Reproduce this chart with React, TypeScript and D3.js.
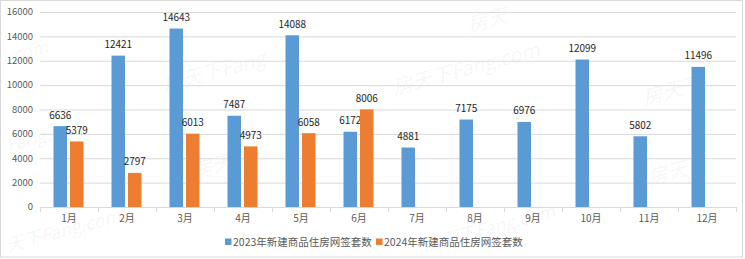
import React from "react";
import * as d3 from "d3";

const months = ["1月", "2月", "3月", "4月", "5月", "6月", "7月", "8月", "9月", "10月", "11月", "12月"];
const series2023 = [6636, 12421, 14643, 7487, 14088, 6172, 4881, 7175, 6976, 12099, 5802, 11496];
const series2024 = [5379, 2797, 6013, 4973, 6058, 8006];
const yTicks = [0, 2000, 4000, 6000, 8000, 10000, 12000, 14000, 16000];
const seriesNames = ["2023年新建商品住房网签套数", "2024年新建商品住房网签套数"];

const W = 745;
const H = 259;
const FONT = "'Noto Sans CJK SC', 'Noto Sans', sans-serif";
const BLUE = "#5B9BD5";
const ORANGE = "#ED7D31";

const watermarks = [
  { x: 395, y: 95, t: "房天下Fang.com", s: 20 },
  { x: 165, y: 92, t: "房天下Fang", s: 20 },
  { x: 645, y: 105, t: "房天下", s: 20 },
  { x: 650, y: 185, t: "房天", s: 20 },
  { x: 8, y: 252, t: "天下Fang.com", s: 18 },
  { x: 8, y: 152, t: "Fang.com", s: 18 },
  { x: 14, y: 62, t: "com", s: 18 },
  { x: 195, y: 178, t: "房天下", s: 20 },
  { x: 425, y: 252, t: "房天下Fang.com", s: 18 },
  { x: 470, y: 32, t: "房天", s: 20 },
];

export default function App() {
  const left = 40, right = 736, top = 12, bottom = 207;
  const x = d3.scaleBand<string>().domain(months).range([left, right]).paddingInner(0).paddingOuter(0);
  const y = d3.scaleLinear().domain([0, 16000]).range([bottom, top]);
  const bw = x.bandwidth();
  const barW = 13.5;
  const gap = 3;
  const off1 = (bw - (2 * barW + gap)) / 2 - 0.5;
  const off2 = off1 + barW + gap;

  return (
    <div style={{ position: "absolute", left: 0, top: 0 }}>
      <svg width={W} height={H} style={{ display: "block", fontFamily: FONT }}>
        <rect x={0} y={0} width={W} height={H} fill="#fff" />
        {watermarks.map((w, i) => (
          <text key={"w" + i} x={w.x} y={w.y} fontSize={w.s} fill="#000" fillOpacity={0.05}
            transform={`rotate(-15 ${w.x} ${w.y})`} fontStyle="italic">{w.t}</text>
        ))}
        {yTicks.map((t) => (
          <g key={t}>
            {t > 0 && <line x1={left} x2={right} y1={y(t) + 0.5} y2={y(t) + 0.5} stroke="#d9d9d9" />}
            <text x={33} y={y(t)} dy="0.35em" textAnchor="end" fontSize={9.5} fill="#595959">{t}</text>
          </g>
        ))}
        <line x1={left} x2={right} y1={bottom + 0.5} y2={bottom + 0.5} stroke="#d9d9d9" />
        {d3.range(months.length + 1).map((i) => {
          const xx = Math.round(left + i * bw) + 0.5;
          return <line key={"tk" + i} x1={xx} x2={xx} y1={bottom} y2={bottom + 5} stroke="#d9d9d9" />;
        })}
        {months.map((m) => (
          <text key={m} x={(x(m) as number) + bw / 2} y={218} dy="0.35em" textAnchor="middle" fontSize={10} fill="#595959">{m}</text>
        ))}
        {series2023.map((v, i) => {
          const bx = (x(months[i]) as number) + off1;
          return (
            <g key={"a" + i}>
              <rect x={bx} y={y(v)} width={barW} height={bottom - y(v)} fill={BLUE} />
              <text x={bx + barW / 2} y={y(v) - 7.5} textAnchor="middle" fontSize={10} fill="#262626">{v}</text>
            </g>
          );
        })}
        {series2024.map((v, i) => {
          const bx = (x(months[i]) as number) + off2;
          return (
            <g key={"b" + i}>
              <rect x={bx} y={y(v)} width={barW} height={bottom - y(v)} fill={ORANGE} />
              <text x={bx + barW / 2} y={y(v) - 7.5} textAnchor="middle" fontSize={10} fill="#262626">{v}</text>
            </g>
          );
        })}
        <g>
          <rect x={225} y={238.5} width={6.5} height={6.5} fill={BLUE} />
          <text x={233} y={242} dy="0.35em" fontSize={10.5} fill="#595959">{seriesNames[0]}</text>
          <rect x={376} y={238.5} width={6.5} height={6.5} fill={ORANGE} />
          <text x={384} y={242} dy="0.35em" fontSize={10.5} fill="#595959">{seriesNames[1]}</text>
        </g>
        <rect x={0.5} y={0.5} width={W - 3} height={H - 2.5} fill="none" stroke="#d9d9d9" />
      </svg>
    </div>
  );
}
